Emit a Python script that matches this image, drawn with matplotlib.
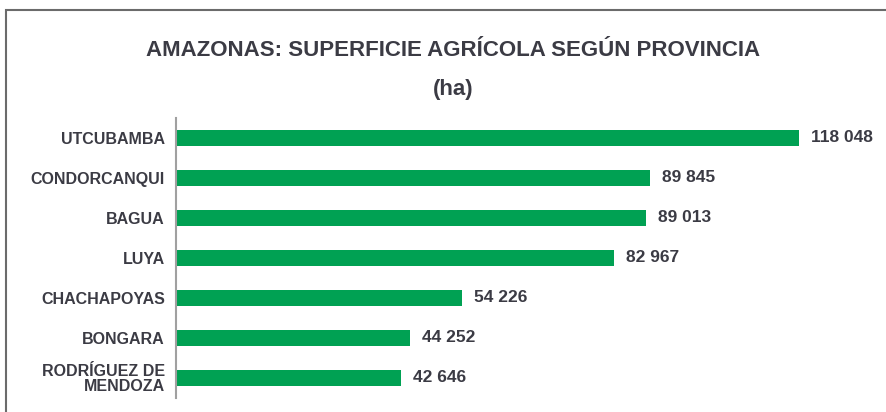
import numpy as np
import matplotlib.pyplot as plt
from matplotlib.patches import Rectangle

# datos
provincias = ["UTCUBAMBA", "CONDORCANQUI", "BAGUA", "LUYA",
              "CHACHAPOYAS", "BONGARA", "RODRÍGUEZ DE\nMENDOZA"]
superficie = [118048, 89845, 89013, 82967, 54226, 44252, 42646]
etiquetas = ["118 048", "89 845", "89 013", "82 967", "54 226", "44 252", "42 646"]

verde = "#00A153"
texto = "#3b3b44"
plt.rcParams['font.family'] = ['Liberation Sans', 'DejaVu Sans']

fig = plt.figure(figsize=(8.87, 4.12), dpi=100)
# marco exterior
fig.patches.append(Rectangle((6/887, -0.1), 1.2, (412-10)/412 + 0.1, transform=fig.transFigure,
                             fill=False, edgecolor="#6b6b6b", linewidth=1.5))

ax = fig.add_axes([176/887, 14/412, 700/887, 280/412])
y = np.arange(len(provincias))
ax.barh(y, superficie, height=0.4, color=verde)
ax.set_ylim(len(provincias) - 0.5, -0.5)
ax.set_xlim(0, 118048 * 700 / 623)

for i, v in enumerate(superficie):
    ax.text(v + 2300, i, etiquetas[i], va="center", ha="left",
            fontsize=12.5, fontweight="bold", color=texto)

ax.set_yticks(y)
ax.set_yticklabels(provincias, fontsize=11.5, fontweight="bold", color=texto,
                   linespacing=0.95)
ax.tick_params(axis="y", length=0, pad=8)
ax.set_xticks([])
for s in ["top", "right", "bottom"]:
    ax.spines[s].set_visible(False)
ax.spines["left"].set_color("#a0a0a0")
ax.spines["left"].set_linewidth(1.5)

fig.text(453/887, 1 - 51/412, "AMAZONAS: SUPERFICIE AGRÍCOLA SEGÚN PROVINCIA",
         ha="center", va="center", fontsize=16, fontweight="bold", color=texto)
fig.text(453/887, 1 - 89/412, "(ha)", ha="center", va="center",
         fontsize=16, fontweight="bold", color=texto)

fig.savefig("out.png", dpi=100)
